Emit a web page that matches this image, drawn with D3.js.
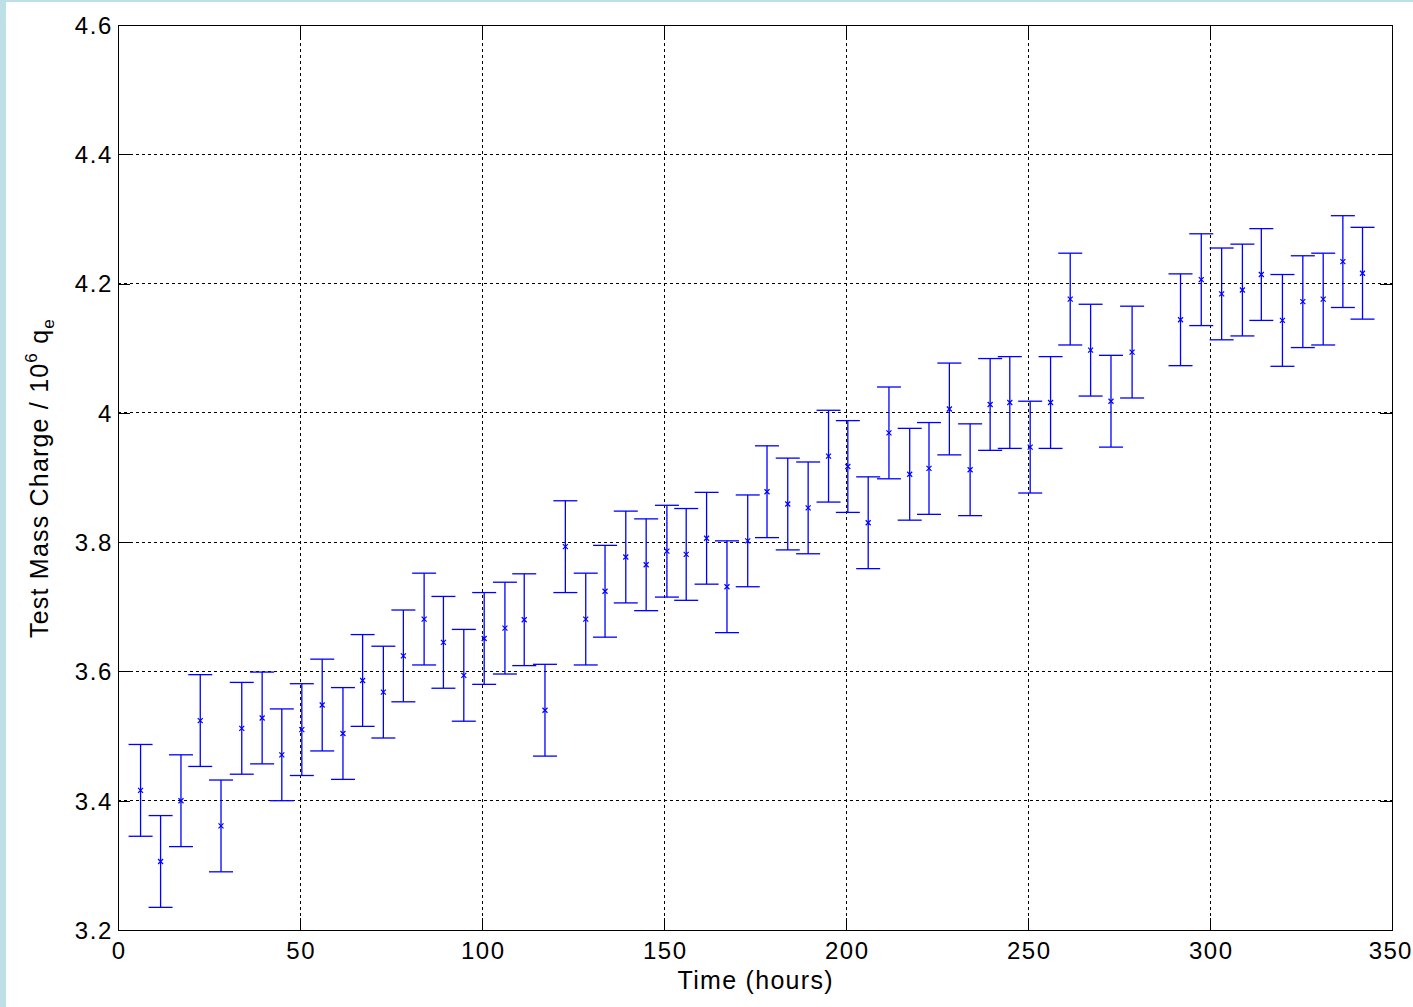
<!DOCTYPE html>
<html>
<head>
<meta charset="utf-8">
<script src="https://cdn.jsdelivr.net/npm/d3@7"></script>
<style>
html, body { margin: 0; padding: 0; background: #ffffff; }
svg { display: block; }
</style>
</head>
<body>
<svg id="chart" width="1413" height="1007"></svg>
<script>
// ---- data ----
const timeHours = [6.2, 11.7, 17.3, 22.6, 28.3, 34.0, 39.6, 45.0, 50.5, 56.1,
  61.8, 67.2, 72.9, 78.4, 84.1, 89.4, 95.0, 100.6, 106.3, 111.6,
  117.3, 122.9, 128.5, 133.8, 139.5, 145.1, 150.8, 156.1, 161.7, 167.3,
  173.0, 178.3, 184.0, 189.6, 195.2, 200.5, 206.1, 211.8, 217.5, 222.8,
  228.4, 234.1, 239.6, 245.0, 250.6, 256.2, 261.6, 267.2, 272.8, 278.6,
  291.9, 297.6, 303.2, 308.9, 314.1, 319.9, 325.5, 331.1, 336.5, 341.9];
const charge = [3.416, 3.306, 3.400, 3.524, 3.361, 3.512, 3.528, 3.471, 3.510, 3.548,
  3.504, 3.586, 3.568, 3.624, 3.681, 3.645, 3.594, 3.651, 3.667, 3.680,
  3.540, 3.793, 3.681, 3.724, 3.777, 3.765, 3.786, 3.781, 3.806, 3.731,
  3.802, 3.878, 3.859, 3.853, 3.933, 3.917, 3.830, 3.969, 3.905, 3.914,
  4.006, 3.912, 4.013, 4.016, 3.947, 4.016, 4.176, 4.097, 4.018, 4.094,
  4.144, 4.206, 4.184, 4.190, 4.214, 4.143, 4.172, 4.176, 4.234, 4.216];
const errorHalf = 0.071;
const xTicks = [0, 50, 100, 150, 200, 250, 300, 350];
const yTicks = [3.2, 3.4, 3.6, 3.8, 4.0, 4.2, 4.4, 4.6];
const yTickLabels = ["3.2", "3.4", "3.6", "3.8", "4", "4.2", "4.4", "4.6"];

// ---- layout ----
const svg = d3.select("#chart");
const W = 1413, H = 1007;
const L = 118, R = 1392, T = 25, B = 930;
const font = "'Liberation Sans', Arial, Helvetica, sans-serif";

// background frame strips
svg.append("rect").attr("x", 0).attr("y", 0).attr("width", W).attr("height", H).attr("fill", "#ffffff");
svg.append("rect").attr("x", 0).attr("y", 0).attr("width", 6).attr("height", H).attr("fill", "#bde0e6");
svg.append("rect").attr("x", 0).attr("y", 0).attr("width", W).attr("height", 2).attr("fill", "#bde0e6");

const x = d3.scaleLinear().domain([0, 350]).range([L, R]);
const y = d3.scaleLinear().domain([3.2, 4.6]).range([B, T]);

// grid
const grid = svg.append("g");
grid.selectAll(".gx").data(xTicks.slice(1, -1)).join("line")
  .attr("x1", d => x(d)).attr("x2", d => x(d)).attr("y1", T).attr("y2", B)
  .attr("stroke", "#000").attr("stroke-width", 1).attr("stroke-dasharray", "3,3")
  .attr("shape-rendering", "crispEdges");
grid.selectAll(".gy").data(yTicks.slice(1, -1)).join("line")
  .attr("y1", d => y(d)).attr("y2", d => y(d)).attr("x1", L).attr("x2", R)
  .attr("stroke", "#000").attr("stroke-width", 1).attr("stroke-dasharray", "3,3")
  .attr("shape-rendering", "crispEdges");

// axes (inward ticks)
const tickLen = 12;
const xAxisB = d3.axisBottom(x).tickValues(xTicks).tickSize(-tickLen).tickSizeOuter(0).tickFormat(d3.format("d"));
const xAxisT = d3.axisTop(x).tickValues(xTicks).tickSize(-tickLen).tickSizeOuter(0).tickFormat("");
const yAxisL = d3.axisLeft(y).tickValues(yTicks).tickSize(-tickLen).tickSizeOuter(0)
  .tickFormat((d, i) => yTickLabels[i]);
const yAxisR = d3.axisRight(y).tickValues(yTicks).tickSize(-tickLen).tickSizeOuter(0).tickFormat("");

function styleAxis(g) {
  g.selectAll("path").attr("stroke", "#000").attr("stroke-width", 1).attr("shape-rendering", "crispEdges");
  g.selectAll("line").attr("stroke", "#000").attr("stroke-width", 1).attr("shape-rendering", "crispEdges");
  g.selectAll("text").attr("fill", "#000").attr("font-family", font).attr("font-size", 24)
    .attr("letter-spacing", "1.6px");
}
const gxb = svg.append("g").attr("transform", `translate(0,${B})`).call(xAxisB).call(styleAxis);
gxb.selectAll("text").attr("dy", null).attr("y", 29).attr("dx", 0.8);
// last label sits against the right edge of the figure
gxb.selectAll("text").filter(d => d === 350)
  .attr("text-anchor", "end").attr("dx", null).attr("x", W - 1 - x(350) + 0)
  .attr("letter-spacing", "1.2px");
const gxt = svg.append("g").attr("transform", `translate(0,${T})`).call(xAxisT).call(styleAxis);
const gyl = svg.append("g").attr("transform", `translate(${L},0)`).call(yAxisL).call(styleAxis);
gyl.selectAll("text").attr("x", -5).attr("dy", "0.35em");
const gyr = svg.append("g").attr("transform", `translate(${R},0)`).call(yAxisR).call(styleAxis);

// axis titles
svg.append("text").attr("x", (L + R) / 2 + 0.7).attr("y", 989)
  .attr("text-anchor", "middle").attr("font-family", font).attr("font-size", 25).attr("fill", "#000")
  .attr("letter-spacing", "1.3px")
  .text("Time (hours)");

const yl = svg.append("text")
  .attr("transform", "translate(48,478) rotate(-90)")
  .attr("text-anchor", "middle").attr("font-family", font).attr("font-size", 25).attr("fill", "#000")
  .attr("letter-spacing", "1.2px");
yl.append("tspan").text("Test Mass Charge / 10");
yl.append("tspan").attr("font-size", 17).attr("dy", -11).text("6");
yl.append("tspan").attr("dy", 11).text(" q");
yl.append("tspan").attr("font-size", 17).attr("dy", 6).text("e");

// data
const data = timeHours.map((t, i) => ({ t, v: charge[i] }));
const col = "#0000ff";
const cap = 12;
const gd = svg.append("g");
const bars = gd.selectAll("g.bar").data(data).join("g").attr("class", "bar");
bars.append("line")
  .attr("x1", d => x(d.t)).attr("x2", d => x(d.t))
  .attr("y1", d => y(d.v + errorHalf)).attr("y2", d => y(d.v - errorHalf))
  .attr("stroke", col).attr("stroke-width", 1.3);
bars.append("line")
  .attr("x1", d => x(d.t) - cap).attr("x2", d => x(d.t) + cap)
  .attr("y1", d => y(d.v + errorHalf)).attr("y2", d => y(d.v + errorHalf))
  .attr("stroke", col).attr("stroke-width", 1.3);
bars.append("line")
  .attr("x1", d => x(d.t) - cap).attr("x2", d => x(d.t) + cap)
  .attr("y1", d => y(d.v - errorHalf)).attr("y2", d => y(d.v - errorHalf))
  .attr("stroke", col).attr("stroke-width", 1.3);
const m = 2.5;
bars.append("path")
  .attr("d", d => {
    const cx = x(d.t), cy = y(d.v);
    return `M${cx - m},${cy - m}L${cx + m},${cy + m}M${cx - m},${cy + m}L${cx + m},${cy - m}`;
  })
  .attr("stroke", col).attr("stroke-width", 1.2).attr("fill", "none");
</script>
</body>
</html>
